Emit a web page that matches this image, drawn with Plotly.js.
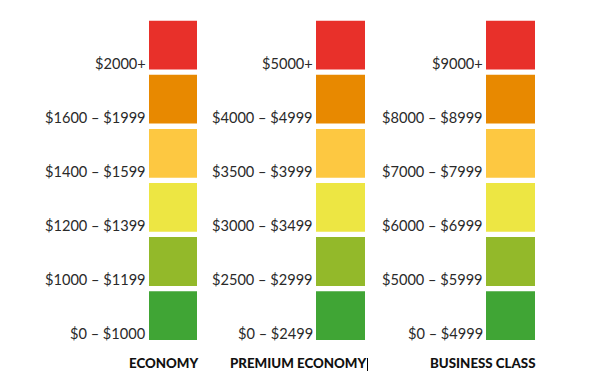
<!DOCTYPE html>
<html>
<head>
<meta charset="utf-8">
<script src="https://cdn.plot.ly/plotly-3.0.1.min.js"></script>
<style>
html,body{margin:0;padding:0;background:#fff;}
#chart{width:590px;height:387px;}
</style>
</head>
<body>
<div id="chart"></div>
<script>
// ---- data ----
const columns = ['ECONOMY', 'PREMIUM ECONOMY', 'BUSINESS CLASS'];
const economyLabels = ['$0 – $1000', '$1000 – $1199', '$1200 – $1399', '$1400 – $1599', '$1600 – $1999', '$2000+'];
const premiumLabels = ['$0 – $2499', '$2500 – $2999', '$3000 – $3499', '$3500 – $3999', '$4000 – $4999', '$5000+'];
const businessLabels = ['$0 – $4999', '$5000 – $5999', '$6000 – $6999', '$7000 – $7999', '$8000 – $8999', '$9000+'];
const tierLevels = [0, 1, 2, 3, 4, 5];
const tierColors = ['#40a535', '#93b92a', '#ede643', '#fdc841', '#e88900', '#e8302a'];

// ---- layout helpers ----
const W = 590, H = 387;
const labelSets = [economyLabels, premiumLabels, businessLabels];
const colPx = [[149, 197], [316, 365], [486, 535]];
const boxFrac = 0.902;        // share of each tier step filled by the box
const pxPerUnit = 54.1;
const bottomPx = 340;
const yRange = [-(H - bottomPx) / pxPerUnit, bottomPx / pxPerUnit];

const traces = [];
const annotations = [];
const layout = {
  width: W, height: H,
  margin: {l: 0, r: 0, t: 0, b: 0},
  paper_bgcolor: '#fff', plot_bgcolor: '#fff',
  showlegend: false,
  barmode: 'overlay',
  yaxis: {range: yRange, visible: false, fixedrange: true, domain: [0, 1]},
  shapes: [{type: 'line', xref: 'paper', yref: 'paper',
            x0: 367.5 / W, x1: 367.5 / W, y0: 1 - 358 / H, y1: 1 - 371 / H,
            line: {color: '#000', width: 1}}],
  annotations: annotations
};

columns.forEach((name, c) => {
  const ax = c === 0 ? 'x' : 'x' + (c + 1);
  const axKey = c === 0 ? 'xaxis' : 'xaxis' + (c + 1);
  layout[axKey] = {
    domain: [colPx[c][0] / W, colPx[c][1] / W],
    range: [-0.5, 0.5], visible: false, fixedrange: true,
    anchor: 'y'
  };
  traces.push({
    type: 'bar',
    x: tierLevels.map(() => 0),
    y: tierLevels.map(() => boxFrac),
    base: tierLevels,
    width: 1,
    xaxis: ax, yaxis: 'y',
    marker: {color: tierColors, line: {width: 0}},
    hoverinfo: 'skip'
  });
  labelSets[c].forEach((lab, i) => {
    annotations.push({
      xref: ax, yref: 'y', x: -0.5, y: tierLevels[i],
      xanchor: 'right', yanchor: 'bottom',
      xshift: -1, yshift: -4,
      text: lab, showarrow: false,
      font: {family: 'Lato, sans-serif', size: 14.6, color: '#2a2a2a'}
    });
  });
  annotations.push({
    xref: ax, yref: 'paper', x: 0.5, y: 1 - 362.5 / H,
    xanchor: 'right', yanchor: 'middle',
    xshift: 2.5,
    text: name, showarrow: false,
    font: {family: 'Lato, sans-serif', size: 13.3, weight: 900, color: '#111'}
  });
});

Plotly.newPlot('chart', traces, layout, {displayModeBar: false, staticPlot: true});
</script>
</body>
</html>
